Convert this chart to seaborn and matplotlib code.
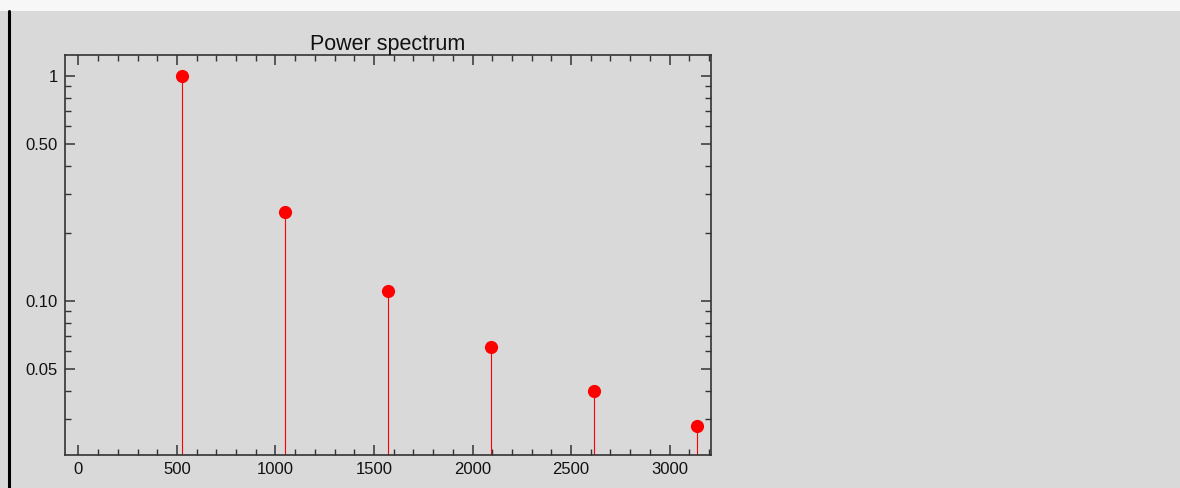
import numpy as np
import pandas as pd
import matplotlib
matplotlib.use("Agg")
import matplotlib.pyplot as plt
from matplotlib.ticker import FixedLocator, FixedFormatter, MultipleLocator, LogLocator
from matplotlib.patches import Rectangle
from matplotlib.lines import Line2D
import seaborn as sns

# Data
frequencies = [523.25, 1046.5, 1569.75, 2093.0, 2616.25, 3139.5]
power = [1.0, 0.25, 0.111, 0.0625, 0.04, 0.0278]
y_tick_values = [0.05, 0.1, 0.5, 1]
y_tick_labels = ["0.05", "0.10", "0.50", "1"]
x_tick_values = [0, 500, 1000, 1500, 2000, 2500, 3000]
x_tick_labels = ["0", "500", "1000", "1500", "2000", "2500", "3000"]
title = "Power spectrum"

sns.set_theme(style="ticks")
plt.rcParams["font.family"] = ["Liberation Sans", "DejaVu Sans"]

bg = "#d9d9d9"
fig = plt.figure(figsize=(11.8, 4.88), dpi=100, facecolor=bg)
# top light strip and left border line
fig.patches.append(Rectangle((0, 1 - 11 / 488), 1, 11 / 488, transform=fig.transFigure,
                             facecolor="#f7f7f7", edgecolor="none", zorder=0))
fig.lines.append(Line2D([9 / 1180, 9 / 1180], [0, 1 - 11 / 488], transform=fig.transFigure,
                        color="black", linewidth=2.2))

ax = fig.add_axes([65 / 1180, 33 / 488, 646 / 1180, 400 / 488])
ax.set_facecolor(bg)

df = pd.DataFrame({"freq": frequencies, "power": power})
ax.set_yscale("log")
ax.vlines(df["freq"], 1e-3, df["power"], color="#ff0000", linewidth=0.8, zorder=2)
sns.scatterplot(data=df, x="freq", y="power", ax=ax, color="#ff0000", s=90,
                linewidth=0, zorder=3, legend=False)

ax.set_xlim(-68, 3210)
ax.set_ylim(0.0207, 1.24)

ax.xaxis.set_major_locator(FixedLocator(x_tick_values))
ax.xaxis.set_major_formatter(FixedFormatter(x_tick_labels))
ax.xaxis.set_minor_locator(MultipleLocator(100))
ax.yaxis.set_major_locator(FixedLocator(y_tick_values))
ax.yaxis.set_major_formatter(FixedFormatter(y_tick_labels))
ax.yaxis.set_minor_locator(LogLocator(base=10, subs=np.arange(2, 10)))
ax.yaxis.set_minor_formatter(FixedFormatter([]))

ax.set_xlabel("")
ax.set_ylabel("")
for s in ax.spines.values():
    s.set_color("#333333")
    s.set_linewidth(1.2)
ax.tick_params(which="both", direction="in", top=True, right=True, color="#333333",
               labelsize=12, labelcolor="#111111")
ax.tick_params(which="major", length=7, width=1.1, pad=5)
ax.tick_params(which="minor", length=4, width=1.0)

ax.set_title(title, fontsize=15.5, pad=3, color="#111111")

fig.savefig("out.png", dpi=100, facecolor=bg)
